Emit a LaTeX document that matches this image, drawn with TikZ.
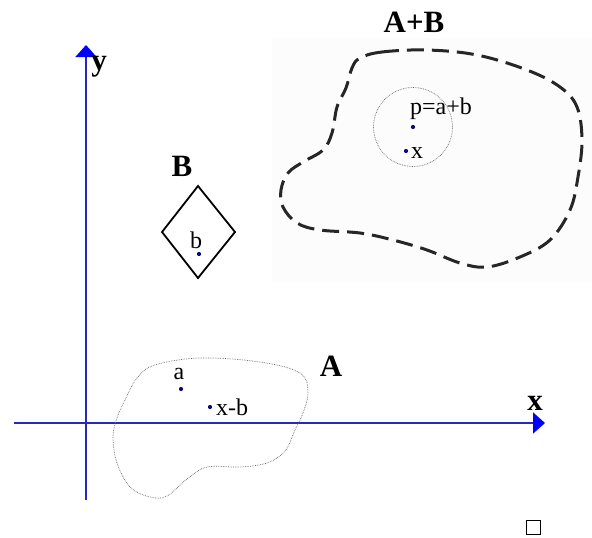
\documentclass[tikz,border=0pt]{standalone}
\usepackage{fontspec}
\setmainfont{Liberation Serif}
\usetikzlibrary{arrows.meta}
\definecolor{axisblue}{RGB}{40,40,190}
\definecolor{dotblue}{RGB}{10,10,120}
\tikzset{
  axis/.style={draw=axisblue, line width=1.8pt, -{Triangle[length=12pt,width=21pt,color=blue]}},
  biglabel/.style={font=\fontsize{31}{33}\selectfont\bfseries, inner sep=0pt},
  smalllabel/.style={font=\fontsize{24}{26}\selectfont, inner sep=0pt},
  pt/.style={circle, fill=dotblue, inner sep=0pt, minimum size=4.2pt},
}
\begin{document}
\begin{tikzpicture}[x=1pt,y=-1pt]
\useasboundingbox (0,0) rectangle (592,538);
% faint background of the A+B region
\fill[black!1] (272,38) rectangle (592,282);
% axes
\coordinate (xs) at (14,423);
\coordinate (xe) at (545,423);
\coordinate (ys) at (86,500);
\coordinate (ye) at (86,45);
\draw[axis] (xs) -- (xe);
\draw[axis] (ys) -- (ye);
\node[biglabel] (ylab) at (99,67) {y};
\node[biglabel] (xlab) at (535,403) {x};
% set A
\draw[black!60, line width=0.7pt, densely dotted] plot[smooth cycle, tension=0.6] coordinates {
 (125,400) (137,378) (155,365) (200,358) (260,362) (300,373) (308,392) (303,413)
 (295,430) (285,451) (267,463) (240,467) (207,467) (187,479) (167,496) (150,497)
 (130,487) (117,463) (113,437) (117,418)};
\node[biglabel] (Alab) at (331,366) {A};
\node[pt] (a) at (181,389) {};
\node[smalllabel] (alab) at (179,374) {a};
\node[pt] (xb) at (210,407) {};
\node[smalllabel, anchor=west] (xblab) at (216,407) {x-b};
% set B
\draw[line width=1.8pt, line join=miter] (198,186) -- (235,232) -- (198,278) -- (162,232) -- cycle;
\node[biglabel] (Blab) at (182,166) {B};
\node[pt] (b) at (199,254) {};
\node[smalllabel] (blab) at (196,240) {b};
% set A+B
\draw[black!85, line width=3pt, dash pattern=on 17pt off 8pt] plot[smooth cycle, tension=0.6] coordinates {
 (360,58) (382,52) (427,50) (477,55) (527,70) (560,87) (577,107) (582,140)
 (578,177) (570,210) (550,240) (520,257) (487,267) (460,263) (427,250) (393,240)
 (360,233) (320,230) (297,223) (283,207) (281,190) (288,173) (303,162) (323,150)
 (332,133) (337,107) (346,88) (352,68)};
\node[biglabel] (ABlab) at (414,22) {A+B};
\node[draw=black!60, densely dotted, line width=0.7pt, circle, minimum size=79pt, inner sep=0pt] (ball) at (413,127) {};
\node[pt] (p) at (413,127) {};
\node[smalllabel, anchor=west] (plab) at (410,109) {p=a+b};
\node[pt] (x) at (406,151) {};
\node[smalllabel, anchor=west] (xlab2) at (411,153) {x};
% end of proof box
\node[draw, line width=1pt, minimum size=14pt, inner sep=0pt] (qed) at (533,527) {};
\end{tikzpicture}
\end{document}
